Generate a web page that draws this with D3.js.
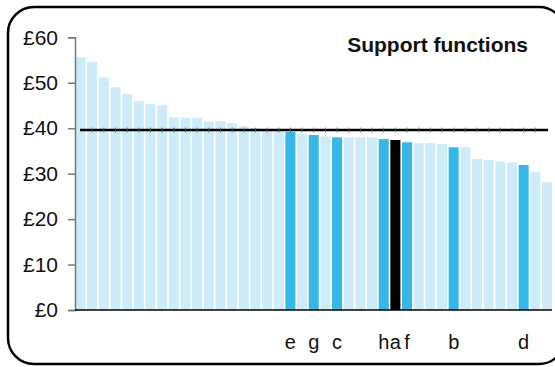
<!DOCTYPE html>
<html>
<head>
<meta charset="utf-8">
<script src="https://cdn.jsdelivr.net/npm/d3@7"></script>
<style>
  body { margin: 0; background: #fff; }
  svg { display: block; font-family: "Liberation Sans", Arial, sans-serif; }
</style>
</head>
<body>
<div id="chart"></div>
<script>
// cost per unit, sorted high to low
var values = [55.6, 54.6, 51.2, 49.0, 47.5, 46.0, 45.3, 45.05, 42.4, 42.3, 42.3,
              41.5, 41.5, 41.1, 40.4, 40.0, 39.6, 39.5, 39.2, 38.7, 38.5, 38.2,
              38.0, 38.0, 38.0, 38.0, 37.6, 37.4, 36.9, 36.7, 36.7, 36.5, 35.8,
              35.8, 33.2, 33.0, 32.7, 32.5, 31.9, 30.3, 28.1];
// highlighted bars: index -> label
var labels = {18: "e", 20: "g", 22: "c", 26: "h", 27: "a", 28: "f", 32: "b", 38: "d"};
var focus = "a";
var average = 39.6;
var yTicks = [0, 10, 20, 30, 40, 50, 60];
var title = "Support functions";

var W = 555, H = 367;
var svg = d3.select("#chart").append("svg").attr("width", W).attr("height", H);

// frame
svg.append("rect").attr("x", 8).attr("y", 7).attr("width", 557).attr("height", 357)
   .attr("rx", 26).attr("ry", 26).attr("fill", "none").attr("stroke", "#000").attr("stroke-width", 2.5);

var x = d3.scaleBand().domain(d3.range(values.length)).range([75.5, 552]).paddingInner(0.14).paddingOuter(0);
var y = d3.scaleLinear().domain([0, 60]).range([310, 37.3]);

function colorOf(i){
    if (labels[i] === focus) return "#000";
    if (labels[i]) return "#35b8e8";
    return "#cdecf8";
}

svg.append("g").selectAll("rect").data(values).enter().append("rect")
   .attr("x", function(d,i){ return x(i); })
   .attr("y", function(d){ return y(d); })
   .attr("width", x.bandwidth())
   .attr("height", function(d){ return y(0) - y(d); })
   .attr("fill", function(d,i){ return colorOf(i); });

// y axis
var yAxis = svg.append("g").attr("transform", "translate(75,0)")
   .call(d3.axisLeft(y).tickValues(yTicks).tickSize(7).tickPadding(10).tickFormat(function(d){ return "£" + d; }));
yAxis.select(".domain").attr("stroke", "#777").attr("stroke-width", 1.5);
yAxis.selectAll(".tick line").attr("stroke", "#777").attr("stroke-width", 1.5);
yAxis.selectAll(".tick text").attr("font-size", 21).attr("fill", "#111")
   .attr("font-family", "'Liberation Sans', Arial, sans-serif");

// baseline
svg.append("line").attr("x1", 75).attr("x2", 552).attr("y1", y(0)).attr("y2", y(0))
   .attr("stroke", "#000").attr("stroke-width", 1.5);

// average line with small marks at bar centres
svg.append("line").attr("x1", 80).attr("x2", 548).attr("y1", y(average)).attr("y2", y(average))
   .attr("stroke", "#000").attr("stroke-width", 2.5);
svg.append("g").selectAll("line").data(d3.range(values.length).slice(1, -1)).enter().append("line")
   .attr("x1", function(i){ return x(i) + x.bandwidth()/2; })
   .attr("x2", function(i){ return x(i) + x.bandwidth()/2; })
   .attr("y1", y(average) - 2.5).attr("y2", y(average) + 2.5)
   .attr("stroke", "#666").attr("stroke-width", 0.8);

// category labels
svg.append("g").selectAll("text").data(Object.keys(labels)).enter().append("text")
   .attr("x", function(k){ return x(+k) + x.bandwidth()/2; })
   .attr("y", 349)
   .attr("text-anchor", "middle")
   .attr("font-size", 20)
   .attr("fill", "#111")
   .text(function(k){ return labels[k]; });

// title
svg.append("text").attr("x", 528).attr("y", 52).attr("text-anchor", "end")
   .attr("font-size", 21).attr("font-weight", "bold").attr("fill", "#111").text(title);
</script>
</body>
</html>
